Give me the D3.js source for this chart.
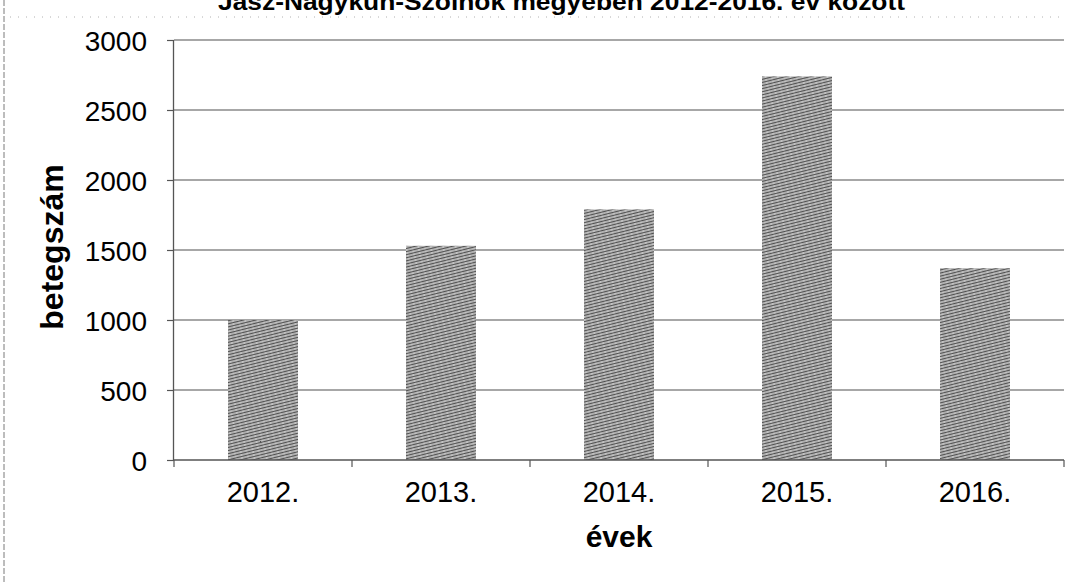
<!DOCTYPE html>
<html>
<head>
<meta charset="utf-8">
<script src="https://cdn.jsdelivr.net/npm/d3@7"></script>
<style>
  html, body { margin: 0; padding: 0; background: #fff; }
  svg { display: block; }
  text { font-family: "Liberation Sans", Arial, sans-serif; fill: #000; }
</style>
</head>
<body>
<svg id="chart" width="1087" height="582"></svg>
<script>
// Patients per year, Jász-Nagykun-Szolnok county
const years = ["2012.", "2013.", "2014.", "2015.", "2016."];
const patients = [1000, 1530, 1790, 2740, 1370];
const yTicks = [0, 500, 1000, 1500, 2000, 2500, 3000];

const titleText = "Jász-Nagykun-Szolnok megyében 2012-2016. év között";
const xTitle = "évek";
const yTitle = "betegszám";

const W = 1087, H = 582;
const margin = { top: 40, right: 23, bottom: 122, left: 174 };
const innerW = W - margin.left - margin.right;
const innerH = H - margin.top - margin.bottom;

const svg = d3.select("#chart");

// Hatched grey fill for the bars
const defs = svg.append("defs");
const pat = defs.append("pattern")
  .attr("id", "hatch")
  .attr("patternUnits", "userSpaceOnUse")
  .attr("width", 6).attr("height", 3)
  .attr("patternTransform", "rotate(-14)");
pat.append("rect").attr("width", 6).attr("height", 3).attr("fill", "#b0b0b0");
pat.append("rect").attr("y", 0).attr("width", 6).attr("height", 1).attr("fill", "#505050");
pat.append("rect").attr("x", 0).attr("y", 1.6).attr("width", 2).attr("height", 0.8).attr("fill", "#e0e0e0");

// Frame remnants: left dashed border and faint dotted rule under the title
svg.append("line")
  .attr("x1", 4).attr("x2", 4).attr("y1", 0).attr("y2", H)
  .attr("stroke", "#7a7a7a").attr("stroke-width", 1)
  .attr("stroke-dasharray", "6,2");
svg.append("line")
  .attr("x1", 10).attr("x2", 1060).attr("y1", 17).attr("y2", 17)
  .attr("stroke", "#b0b0b0").attr("stroke-width", 1)
  .attr("stroke-dasharray", "1,7");

// Title (cut off at the top edge)
svg.append("text")
  .attr("x", 218).attr("y", 10)
  .attr("font-size", 24).attr("font-weight", "bold")
  .attr("textLength", 687).attr("lengthAdjust", "spacingAndGlyphs")
  .text(titleText);

const g = svg.append("g").attr("transform", `translate(${margin.left},${margin.top})`);

const x = d3.scaleBand().domain(years).range([0, innerW]).paddingInner(0.607).paddingOuter(0.3035);
const xOuter = d3.scaleBand().domain(years).range([0, innerW]);
const y = d3.scaleLinear().domain([0, 3000]).range([innerH, 0]);

// Horizontal gridlines
g.append("g")
  .selectAll("line")
  .data(yTicks.filter(d => d > 0))
  .join("line")
  .attr("x1", 0).attr("x2", innerW)
  .attr("y1", d => y(d)).attr("y2", d => y(d))
  .attr("stroke", "#8a8a8a").attr("stroke-width", 1.3);

// Bars
g.append("g")
  .selectAll("rect")
  .data(patients)
  .join("rect")
  .attr("x", (d, i) => x(years[i]))
  .attr("y", d => y(d))
  .attr("width", x.bandwidth())
  .attr("height", d => innerH - y(d))
  .attr("fill", "url(#hatch)");

// Y axis
const yAxis = g.append("g")
  .call(d3.axisLeft(y).tickValues(yTicks).tickSize(7).tickPadding(20).tickFormat(d3.format("d")));
yAxis.select(".domain").attr("stroke", "#555").attr("stroke-width", 1.3).attr("d", `M-0.5,${innerH}V0`);
yAxis.selectAll(".tick line").attr("stroke", "#555").attr("stroke-width", 1.2);
yAxis.selectAll(".tick text")
  .attr("font-size", 28)
  .attr("font-family", "Liberation Sans, Arial, sans-serif")
  .attr("fill", "#000")
  .attr("dy", "0.36em");

// X axis: baseline with tick marks at category boundaries
const xAxis = g.append("g").attr("transform", `translate(0,${innerH})`);
xAxis.append("line")
  .attr("x1", 0).attr("x2", innerW).attr("y1", 0).attr("y2", 0)
  .attr("stroke", "#555").attr("stroke-width", 1.3);
const bounds = years.map(d => xOuter(d)).concat([innerW]);
xAxis.selectAll("line.tk")
  .data(bounds)
  .join("line")
  .attr("class", "tk")
  .attr("x1", d => d).attr("x2", d => d)
  .attr("y1", 0).attr("y2", 7)
  .attr("stroke", "#555").attr("stroke-width", 1.2);
xAxis.selectAll("text")
  .data(years)
  .join("text")
  .attr("x", d => xOuter(d) + xOuter.bandwidth() / 2)
  .attr("y", 42)
  .attr("text-anchor", "middle")
  .attr("font-size", 29)
  .text(d => d);

// Axis titles
svg.append("text")
  .attr("x", margin.left + innerW / 2).attr("y", 547)
  .attr("text-anchor", "middle")
  .attr("font-size", 30).attr("font-weight", "bold")
  .text(xTitle);

svg.append("text")
  .attr("transform", `translate(63,${margin.top + innerH / 2 - 3}) rotate(-90)`)
  .attr("text-anchor", "middle")
  .attr("font-size", 32).attr("font-weight", "bold")
  .text(yTitle);
</script>
</body>
</html>
